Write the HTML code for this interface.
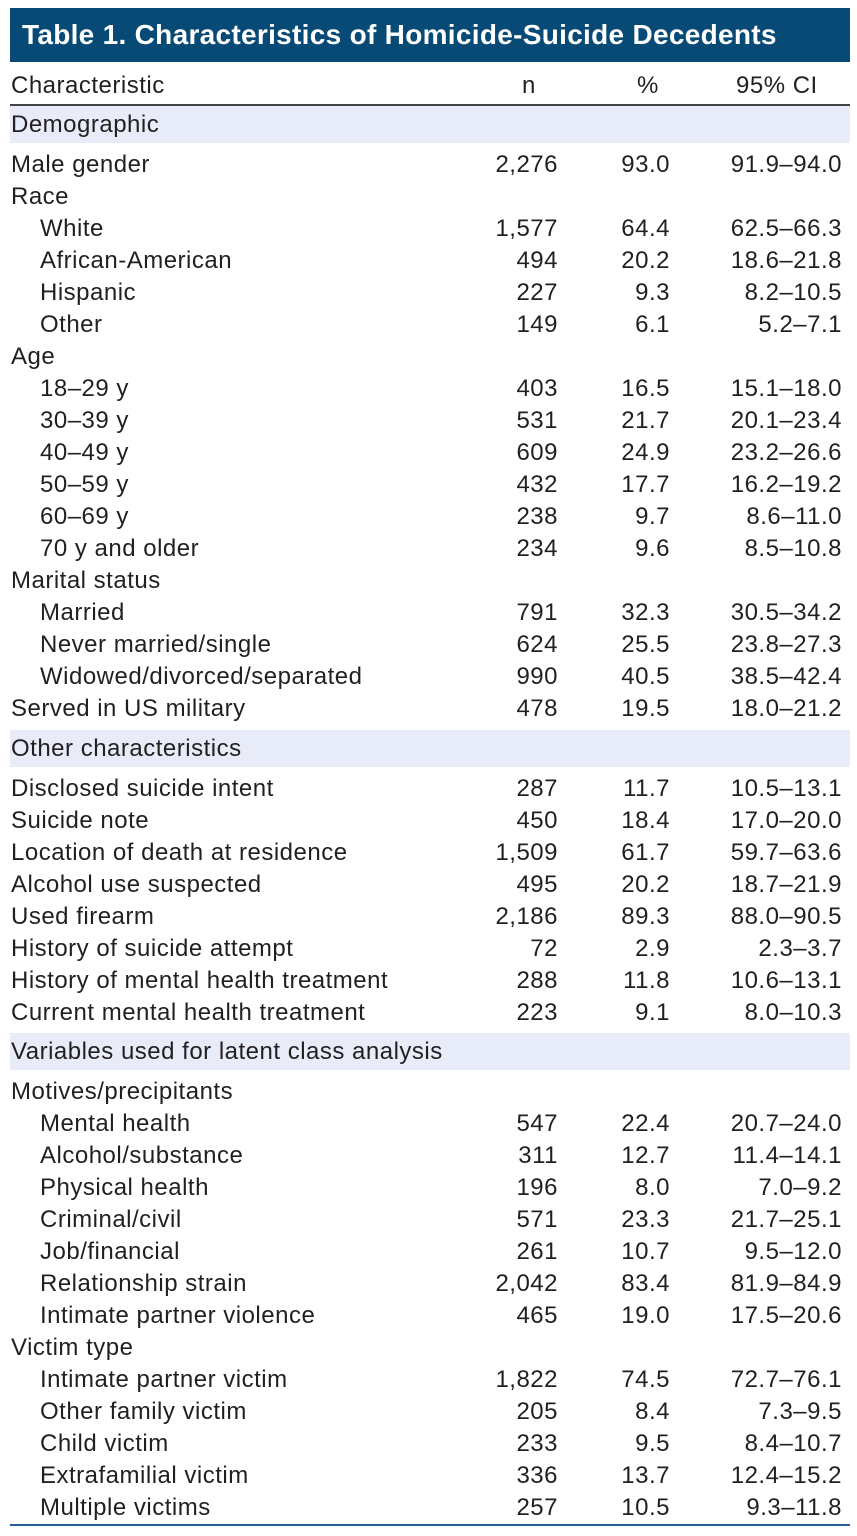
<!DOCTYPE html>
<html><head><meta charset="utf-8"><style>
body{margin:0;width:857px;height:1536px;background:#fff;font-family:"Liberation Sans",sans-serif;color:#231f20;position:relative;overflow:hidden}
#title{position:absolute;left:10px;top:8px;width:840px;height:54px;background:#064a75;color:#fff;font-weight:bold;font-size:28px;line-height:54px;padding-left:12px;box-sizing:border-box;letter-spacing:0.3px}
.r{position:absolute;left:0;width:857px;height:32px;font-size:24px;line-height:34px;letter-spacing:0.5px}
.r span{position:absolute;white-space:nowrap}
.band{position:absolute;left:10px;width:840px;height:37px;background:#e8ecf8}
.l{left:11px}.i{left:40px}
.n{right:299px;text-align:right}.p{right:187px}.c{right:15px}
</style></head><body>
<div id="title">Table 1. Characteristics of Homicide-Suicide Decedents</div>
<div class="r" style="top:69px"><span class="l">Characteristic</span><span style="left:522px">n</span><span style="left:637px">%</span><span style="left:736px">95% CI</span></div>
<div style="position:absolute;left:10px;top:104px;width:840px;height:2px;background:#444"></div>
<div style="position:absolute;left:10px;top:1524px;width:840px;height:2px;background:#2a5d8f"></div>
<div id="t"></div>
<script>
const rows=[
["B","Demographic",106],
["L","Male gender","2,276","93.0","91.9–94.0"],
["L","Race"],
["I","White","1,577","64.4","62.5–66.3"],
["I","African-American","494","20.2","18.6–21.8"],
["I","Hispanic","227","9.3","8.2–10.5"],
["I","Other","149","6.1","5.2–7.1"],
["L","Age"],
["I","18–29 y","403","16.5","15.1–18.0"],
["I","30–39 y","531","21.7","20.1–23.4"],
["I","40–49 y","609","24.9","23.2–26.6"],
["I","50–59 y","432","17.7","16.2–19.2"],
["I","60–69 y","238","9.7","8.6–11.0"],
["I","70 y and older","234","9.6","8.5–10.8"],
["L","Marital status"],
["I","Married","791","32.3","30.5–34.2"],
["I","Never married/single","624","25.5","23.8–27.3"],
["I","Widowed/divorced/separated","990","40.5","38.5–42.4"],
["L","Served in US military","478","19.5","18.0–21.2"],
["B","Other characteristics",730],
["L","Disclosed suicide intent","287","11.7","10.5–13.1"],
["L","Suicide note","450","18.4","17.0–20.0"],
["L","Location of death at residence","1,509","61.7","59.7–63.6"],
["L","Alcohol use suspected","495","20.2","18.7–21.9"],
["L","Used firearm","2,186","89.3","88.0–90.5"],
["L","History of suicide attempt","72","2.9","2.3–3.7"],
["L","History of mental health treatment","288","11.8","10.6–13.1"],
["L","Current mental health treatment","223","9.1","8.0–10.3"],
["B","Variables used for latent class analysis",1033],
["L","Motives/precipitants"],
["I","Mental health","547","22.4","20.7–24.0"],
["I","Alcohol/substance","311","12.7","11.4–14.1"],
["I","Physical health","196","8.0","7.0–9.2"],
["I","Criminal/civil","571","23.3","21.7–25.1"],
["I","Job/financial","261","10.7","9.5–12.0"],
["I","Relationship strain","2,042","83.4","81.9–84.9"],
["I","Intimate partner violence","465","19.0","17.5–20.6"],
["L","Victim type"],
["I","Intimate partner victim","1,822","74.5","72.7–76.1"],
["I","Other family victim","205","8.4","7.3–9.5"],
["I","Child victim","233","9.5","8.4–10.7"],
["I","Extrafamilial victim","336","13.7","12.4–15.2"],
["I","Multiple victims","257","10.5","9.3–11.8"]
];
const t=document.getElementById('t');
let y=0;
for(const r of rows){
  if(r[0]==="B"){
    const b=document.createElement('div');b.className='band';b.style.top=r[2]+'px';
    
    
    t.appendChild(b);
    const d=document.createElement('div');d.className='r';d.style.top=(r[2]+2)+'px';
    
    
    d.innerHTML='<span class="l">'+r[1]+'</span>';t.appendChild(d);
    y=r[2]+42;continue;
  }
  const d=document.createElement('div');d.className='r';d.style.top=y+'px';
  
  
  let h='<span class="'+(r[0]==="I"?'i':'l')+'">'+r[1]+'</span>';
  if(r[2])h+='<span class="n">'+r[2]+'</span><span class="p">'+r[3]+'</span><span class="c">'+r[4]+'</span>';
  d.innerHTML=h;t.appendChild(d);y+=32;
}
</script>
</body></html>
